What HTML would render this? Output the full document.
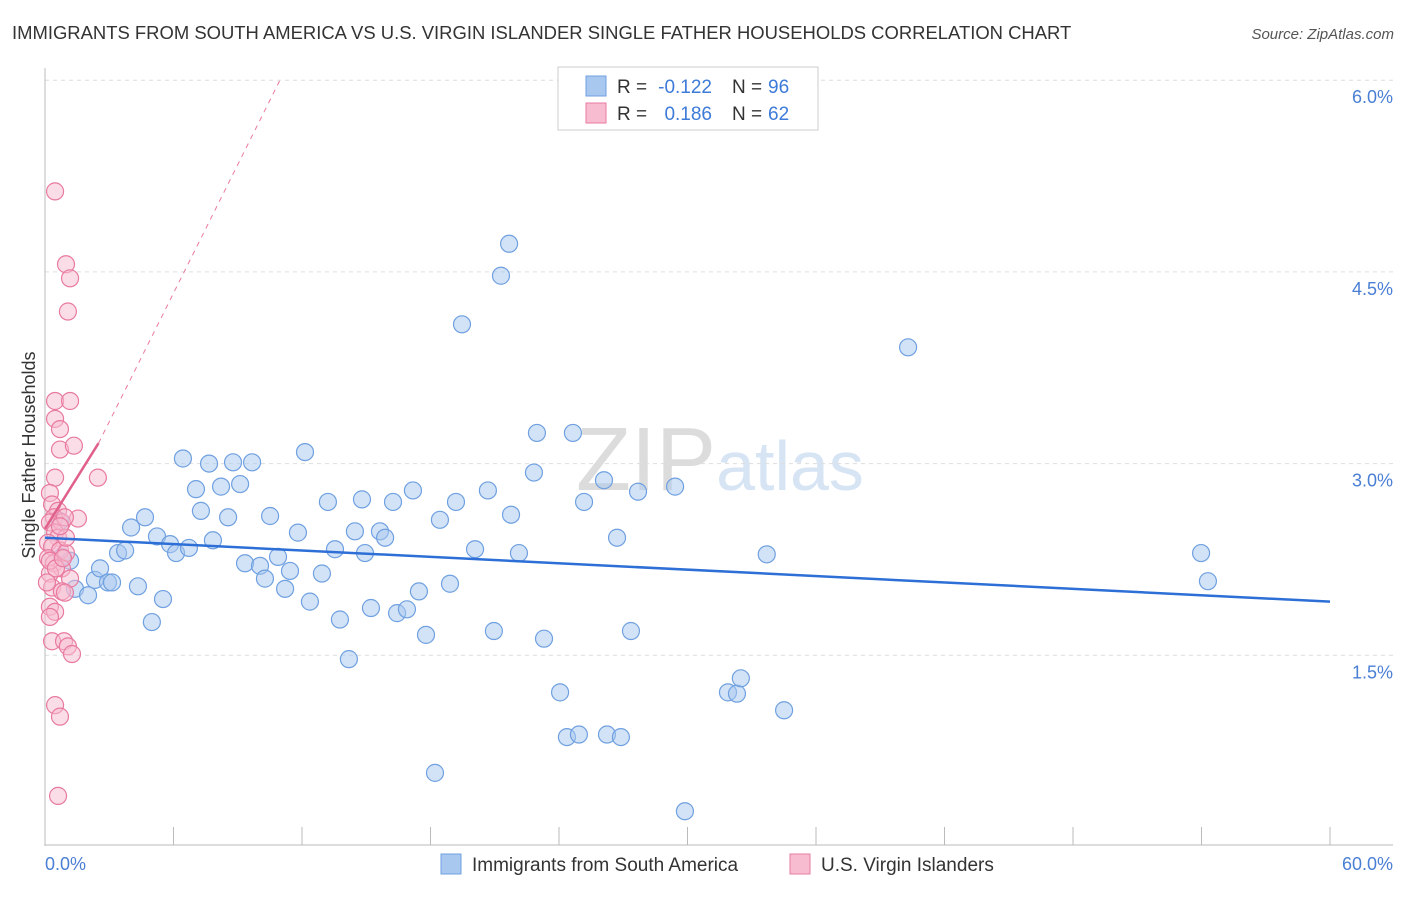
<!DOCTYPE html>
<html><head><meta charset="utf-8"><style>
body{margin:0;background:#fff;font-family:"Liberation Sans",sans-serif;}
svg text{font-family:"Liberation Sans",sans-serif;}
</style></head><body>
<svg id="c" width="1406" height="892" xmlns="http://www.w3.org/2000/svg">
<text x="12" y="39" font-size="18.45" fill="#333">IMMIGRANTS FROM SOUTH AMERICA VS U.S. VIRGIN ISLANDER SINGLE FATHER HOUSEHOLDS CORRELATION CHART</text>
<text x="1394" y="39" font-size="15" fill="#555" font-style="italic" text-anchor="end">Source: ZipAtlas.com</text>
<text x="720" y="490" font-size="90" fill="#e4e4e4" text-anchor="middle" font-family="Liberation Serif"><tspan fill="#dcdcdc">ZIP</tspan><tspan fill="#d6e4f4" font-family="Liberation Sans" font-size="70">atlas</tspan></text>
<g id="grid"></g>
<line x1="45" y1="68" x2="45" y2="846" stroke="#bbb"/>
<line x1="45" y1="845" x2="1393" y2="845" stroke="#bbb"/>
<text x="35" y="455" font-size="18" fill="#333" text-anchor="middle" transform="rotate(-90 35 455)">Single Father Households</text>
<text x="45" y="870" font-size="18" fill="#4a7fd4">0.0%</text>
<text x="1393" y="870" font-size="18" fill="#4a7fd4" text-anchor="end">60.0%</text>
<g id="pts"></g>
<g id="trend"></g>
<g>
<rect x="558" y="67" width="260" height="63" fill="#fff" stroke="#ccc"/>
<rect x="586" y="76" width="20" height="20" fill="#a8c8f0" stroke="#6fa0e0"/>
<rect x="586" y="103" width="20" height="20" fill="#f8bcd0" stroke="#e87aa0"/>
<text x="617" y="93" font-size="19" fill="#333">R =</text>
<text x="712" y="93" font-size="19" fill="#3d7bd9" text-anchor="end">-0.122</text>
<text x="732" y="93" font-size="19" fill="#333">N =</text>
<text x="768" y="93" font-size="19" fill="#3d7bd9">96</text>
<text x="617" y="120" font-size="19" fill="#333">R =</text>
<text x="712" y="120" font-size="19" fill="#3d7bd9" text-anchor="end">0.186</text>
<text x="732" y="120" font-size="19" fill="#333">N =</text>
<text x="768" y="120" font-size="19" fill="#3d7bd9">62</text>
</g>
<g>
<rect x="441" y="854" width="20" height="20" fill="#a8c8f0" stroke="#6fa0e0"/>
<text x="472" y="871" font-size="19" fill="#333">Immigrants from South America</text>
<rect x="790" y="854" width="20" height="20" fill="#f8bcd0" stroke="#e87aa0"/>
<text x="821" y="871" font-size="19" fill="#333">U.S. Virgin Islanders</text>
</g>
</svg>
<script>
const yTicks=[1.5,3.0,4.5,6.0];
const xTickCount=10;
const blueX=[0.70,0.79,1.17,1.40,2.01,2.33,2.57,2.94,3.13,3.41,3.74,4.02,4.34,4.67,4.99,5.23,5.51,5.84,6.12,6.44,6.72,7.05,7.28,7.66,7.84,8.22,8.55,8.78,9.11,9.34,9.67,10.04,10.27,10.51,10.88,11.21,11.44,11.81,12.14,12.37,12.93,13.21,13.54,13.77,14.19,14.47,14.80,14.94,15.22,15.64,15.88,16.25,16.44,16.90,17.18,17.46,17.79,18.21,18.44,18.91,19.19,19.47,20.08,20.68,20.96,21.29,21.67,21.76,22.13,22.83,22.97,23.30,24.05,24.37,24.65,24.93,25.17,26.10,26.24,26.71,26.89,27.36,27.69,29.42,29.88,31.89,32.31,32.49,33.70,34.51,40.30,53.98,54.30];
const blueY=[2.55,2.27,2.24,2.02,1.97,2.09,2.18,2.07,2.07,2.30,2.32,2.50,2.04,2.58,1.76,2.43,1.94,2.37,2.30,3.04,2.34,2.80,2.63,3.00,2.40,2.82,2.58,3.01,2.84,2.22,3.01,2.20,2.10,2.59,2.27,2.02,2.16,2.46,3.09,1.92,2.14,2.70,2.33,1.78,1.47,2.47,2.72,2.30,1.87,2.47,2.42,2.70,1.83,1.86,2.79,2.00,1.66,0.58,2.56,2.06,2.70,4.09,2.33,2.79,1.69,4.47,4.72,2.60,2.30,2.93,3.24,1.63,1.21,0.86,3.24,0.88,2.70,2.87,0.88,2.42,0.86,1.69,2.78,2.82,0.28,1.21,1.20,1.32,2.29,1.07,3.91,2.30,2.08];
const pinkX=[0.47,0.98,1.17,1.07,0.47,1.17,0.47,0.70,0.70,1.35,2.47,0.47,0.23,0.33,0.61,0.42,1.54,0.23,0.79,0.93,0.47,0.61,0.14,0.33,0.70,0.98,0.14,0.42,0.79,0.23,1.17,0.33,0.79,0.93,0.23,0.47,0.23,0.33,0.89,1.07,1.26,0.47,0.70,0.61,0.23,0.51,0.84,0.09,0.98,0.70];
const pinkY=[5.13,4.56,4.45,4.19,3.49,3.49,3.35,3.27,3.11,3.14,2.89,2.89,2.77,2.68,2.63,2.58,2.57,2.54,2.54,2.58,2.46,2.42,2.38,2.35,2.32,2.30,2.26,2.22,2.18,2.14,2.10,2.03,2.00,1.99,1.88,1.84,1.80,1.61,1.61,1.57,1.51,1.11,1.02,0.40,2.24,2.18,2.26,2.07,2.42,2.51];
const blueTrend=[2.42,1.92];
const pinkTrend=[2.49,3.16];
const pinkDashEnd=[10.97,6.0];
const X0=45,X1=1330,Y0=847,PXY=191.7/1.5;
const xs=v=>X0+v/60*(X1-X0), ys=v=>Y0-v*PXY;
const NS="http://www.w3.org/2000/svg";
function mk(t,a,p){const e=document.createElementNS(NS,t);for(const k in a)e.setAttribute(k,a[k]);p.appendChild(e);return e;}
const grid=document.getElementById('grid');
yTicks.forEach(t=>{
 const l=mk('line',{x1:45,x2:1393,y1:ys(t),y2:ys(t),stroke:'#ddd','stroke-dasharray':'4,4'},grid);
 
 
 const tx=mk('text',{x:1393,y:ys(t)+23,'font-size':18,fill:'#4a7fd4','text-anchor':'end'},grid);
 tx.textContent=t.toFixed(1)+'%';
 
 
});
for(let i=1;i<=xTickCount;i++){
 const l=mk('line',{x1:xs(i*6),x2:xs(i*6),y1:827,y2:845,stroke:'#bbb'},grid);
 
 
}
const pts=document.getElementById('pts');
blueX.forEach((x,i)=>{
 const c=mk('circle',{cx:xs(x),cy:ys(blueY[i]),r:8.5,fill:'#a8c8f0','fill-opacity':0.5,stroke:'#6fa0e0','stroke-width':1.2},pts);
 
 
});
pinkX.forEach((x,i)=>{
 const c=mk('circle',{cx:xs(x),cy:ys(pinkY[i]),r:8.5,fill:'#f8bcd0','fill-opacity':0.5,stroke:'#e87aa0','stroke-width':1.2},pts);
 
 
});
const tr=document.getElementById('trend');
const bl=mk('line',{x1:xs(0),y1:ys(blueTrend[0]),x2:xs(60),y2:ys(blueTrend[1]),stroke:'#2d6fd6','stroke-width':2.5},tr);


const pd=mk('line',{x1:xs(2.5),y1:ys(pinkTrend[1]),x2:xs(pinkDashEnd[0]),y2:ys(pinkDashEnd[1]),stroke:'#e87aa0','stroke-width':1,'stroke-dasharray':'5,5'},tr);


const pl=mk('line',{x1:xs(0),y1:ys(pinkTrend[0]),x2:xs(2.5),y2:ys(pinkTrend[1]),stroke:'#e0608a','stroke-width':2.5},tr);


</script>
</body></html>
